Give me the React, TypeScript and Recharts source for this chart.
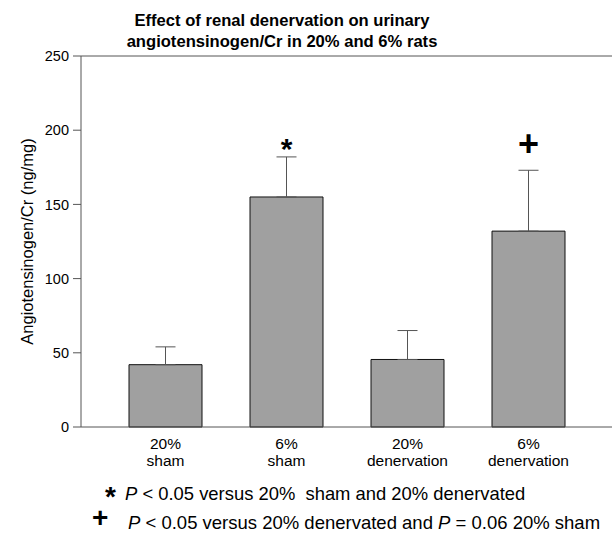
import { Bar, ComposedChart, ErrorBar, ReferenceLine, Scatter, XAxis, YAxis } from "recharts"

const doses = ["20%", "6%", "20%", "6%"]
const treatments = ["sham", "sham", "denervation", "denervation"]
const meanValues = [42, 155, 45.5, 132]
const semValues = [12, 27, 19.5, 41]
const markers = ["", "*", "", "+"]
const markerLevel = 191
const yTicks = [0, 50, 100, 150, 200, 250]

const data = doses.map((dose, i) => ({
  name: `${dose} ${treatments[i]}`,
  mean: meanValues[i],
  err: [0, semValues[i]],
  marker: markers[i],
  markY: markers[i] ? markerLevel : null,
}))

const font = "'Liberation Sans', Arial, sans-serif"

function GroupTick(props: any) {
  const { x, y, index } = props
  return (
    <text x={x} y={y} textAnchor="middle" fontSize={15.5} fontFamily={font} fill="#000">
      <tspan x={x} dy={20}>{doses[index]}</tspan>
      <tspan x={x} dy={17}>{treatments[index]}</tspan>
    </text>
  )
}

function MarkerShape(props: any) {
  const { cx, cy, payload } = props
  if (!payload.marker) return null
  const star = payload.marker === "*"
  return (
    <text x={cx} y={cy} dy={star ? 5 : 0} textAnchor="middle" dominantBaseline="central" fontSize={star ? 30 : 36} fontWeight="bold" fontFamily={font} fill="#000">
      {payload.marker}
    </text>
  )
}

function YLabel(props: any) {
  const { viewBox } = props
  const cx = 27
  const cy = viewBox.y + viewBox.height / 2
  return (
    <text x={cx} y={cy} transform={`rotate(-90, ${cx}, ${cy})`} textAnchor="middle" dominantBaseline="central" fontSize={16.5} fontFamily={font} fill="#000">
      Angiotensinogen/Cr (ng/mg)
    </text>
  )
}

export default function App() {
  return (
    <div style={{ position: "absolute", left: 0, top: 0, width: 612, height: 533, background: "#fff", fontFamily: font, color: "#000", overflow: "hidden" }}>
      <div style={{ position: "absolute", left: 0, top: 10, width: 564, textAlign: "center", fontWeight: "bold", fontSize: 16.6, lineHeight: "21px" }}>
        Effect of renal denervation on urinary
        <br />
        angiotensinogen/Cr in 20% and 6% rats
      </div>
      <ComposedChart width={612} height={533} data={data} margin={{ top: 56, right: 0, bottom: 76, left: 0 }}>
        <ReferenceLine y={250} stroke="#555" strokeWidth={1} />
        <XAxis dataKey="name" height={30} padding={{ left: 24, right: 23 }} tickLine={false} tickSize={0} axisLine={{ stroke: "#555" }} tick={<GroupTick />} interval={0} />
        <YAxis
          width={81}
          domain={[0, 250]}
          ticks={yTicks}
          tickSize={8}
          tickMargin={4}
          axisLine={{ stroke: "#555" }}
          tickLine={{ stroke: "#555" }}
          tick={{ fill: "#000", fontSize: 14.5, fontFamily: font }}
          label={{ content: <YLabel /> }}
        />
        <Bar dataKey="mean" barSize={73} fill="#a0a0a0" stroke="#111" strokeWidth={1} isAnimationActive={false}>
          <ErrorBar dataKey="err" width={10} stroke="#555" strokeWidth={1} direction="y" />
        </Bar>
        <Scatter dataKey="markY" shape={<MarkerShape />} isAnimationActive={false} />
      </ComposedChart>
      <div style={{ position: "absolute", left: 105, top: 482, fontSize: 28, fontWeight: "bold", lineHeight: "30px" }}>*</div>
      <div style={{ position: "absolute", left: 125, top: 483, fontSize: 18.4, whiteSpace: "pre", lineHeight: "22px" }}>
        <i>P</i> {"< 0.05 versus 20%  sham and 20% denervated"}
      </div>
      <div style={{ position: "absolute", left: 92, top: 507, fontSize: 28, fontWeight: "bold", lineHeight: "21px" }}>+</div>
      <div style={{ position: "absolute", left: 128, top: 512, fontSize: 18.5, whiteSpace: "pre", lineHeight: "21px" }}>
        <i>P</i> {"< 0.05 versus 20% denervated and "}
        <i>P</i> {"= 0.06 20% sham"}
      </div>
    </div>
  )
}
